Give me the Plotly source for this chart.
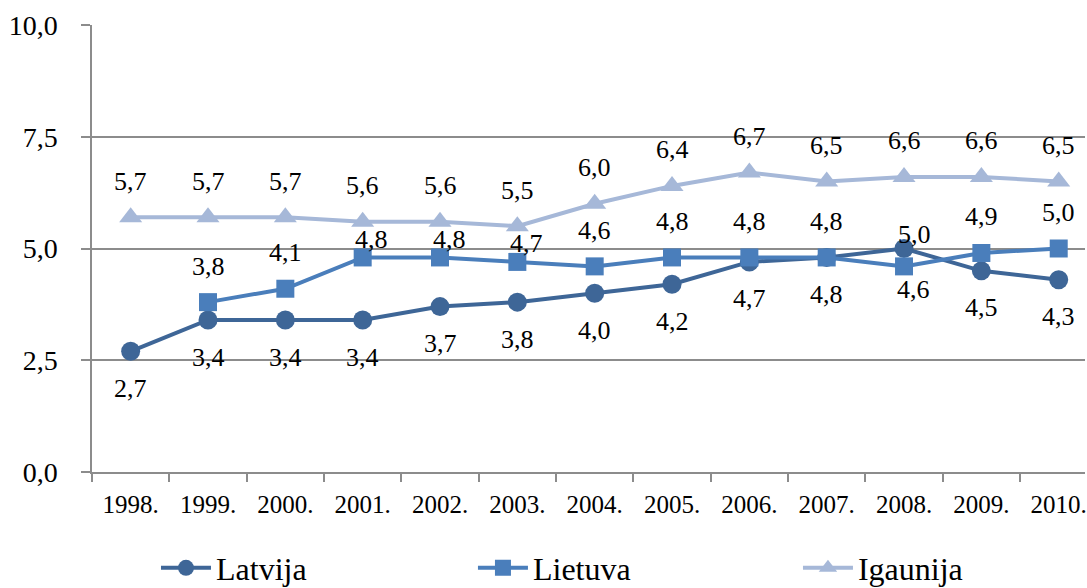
import plotly.graph_objects as go

years = ["1998.", "1999.", "2000.", "2001.", "2002.", "2003.", "2004.",
         "2005.", "2006.", "2007.", "2008.", "2009.", "2010."]
latvija = [2.7, 3.4, 3.4, 3.4, 3.7, 3.8, 4.0, 4.2, 4.7, 4.8, 5.0, 4.5, 4.3]
lietuva = [None, 3.8, 4.1, 4.8, 4.8, 4.7, 4.6, 4.8, 4.8, 4.8, 4.6, 4.9, 5.0]
igaunija = [5.7, 5.7, 5.7, 5.6, 5.6, 5.5, 6.0, 6.4, 6.7, 6.5, 6.6, 6.6, 6.5]
y_ticks = [0, 2.5, 5, 7.5, 10]
y_tick_text = ["0,0", "2,5", "5,0", "7,5", "10,0"]

FONT = "Liberation Serif"
C_LAT = "#3E6697"
C_LIE = "#4A7EBB"
C_IGA = "#A6B8D8"

fig = go.Figure()
fig.add_trace(go.Scatter(x=years, y=latvija, name="Latvija", mode="lines+markers",
                         line=dict(color=C_LAT, width=4),
                         marker=dict(symbol="circle", size=19, color=C_LAT),
                         legend="legend"))
fig.add_trace(go.Scatter(x=years, y=lietuva, name="Lietuva", mode="lines+markers",
                         line=dict(color=C_LIE, width=4),
                         marker=dict(symbol="square", size=18, color=C_LIE),
                         legend="legend2"))
fig.add_trace(go.Scatter(x=years, y=igaunija, name="Igaunija", mode="lines+markers",
                         line=dict(color=C_IGA, width=4),
                         marker=dict(symbol="triangle-up", size=20, color=C_IGA),
                         legend="legend3"))

def fmt(v):
    return f"{v:.1f}".replace(".", ",")

annotations = []
for i, yr in enumerate(years):
    v = latvija[i]
    dx, dy = 0, -37
    if yr == "2008.":
        dx, dy = 10, 14
    annotations.append(dict(x=i, y=v, text=fmt(v), xshift=dx, yshift=dy))
    v = lietuva[i]
    if v is not None:
        dx, dy = 0, 36
        if yr in ("2001.", "2002.", "2003."):
            dx, dy = 9, 18
        if yr == "2008.":
            dx, dy = 9, -23
        annotations.append(dict(x=i, y=v, text=fmt(v), xshift=dx, yshift=dy))
    v = igaunija[i]
    annotations.append(dict(x=i, y=v, text=fmt(v), xshift=0, yshift=36))

for a in annotations:
    a.update(xref="x", yref="y", showarrow=False,
             font=dict(family=FONT, size=26, color="#000000"),
             xanchor="center", yanchor="middle")

leg_common = dict(orientation="h", xref="container", yref="container",
                  y=0.034, yanchor="middle", xanchor="left",
                  font=dict(family=FONT, size=32, color="#000000"),
                  itemwidth=50, bgcolor="rgba(0,0,0,0)")

fig.update_layout(
    width=1087, height=588,
    margin=dict(l=92, r=0, t=25, b=116),
    paper_bgcolor="white", plot_bgcolor="white",
    font=dict(family=FONT, size=24, color="#000000"),
    annotations=annotations,
    showlegend=True,
    legend=dict(x=0.1435, **leg_common),
    legend2=dict(x=0.4351, **leg_common),
    legend3=dict(x=0.7341, **leg_common),
    xaxis=dict(type="category", range=[-0.5, 12.34], tickson="boundaries",
               ticks="outside", ticklen=8, tickcolor="#8C8C8C", tickwidth=1.5,
               showline=True, linecolor="#8C8C8C", linewidth=1.5,
               showgrid=False, zeroline=False, ticklabelstandoff=9,
               tickfont=dict(family=FONT, size=25, color="#000000")),
    yaxis=dict(range=[0, 10], tickvals=y_ticks, ticktext=y_tick_text,
               ticks="outside", ticklen=9, tickcolor="#8C8C8C", tickwidth=1.5,
               showline=True, linecolor="#8C8C8C", linewidth=1.5,
               showgrid=True, gridcolor="#8C8C8C", gridwidth=1.5,
               zeroline=False, ticklabelstandoff=18,
               tickfont=dict(family=FONT, size=28, color="#000000")),
)

fig.write_html("out.html", config={"displayModeBar": False},
               post_script="document.body.style.margin='0px';")
